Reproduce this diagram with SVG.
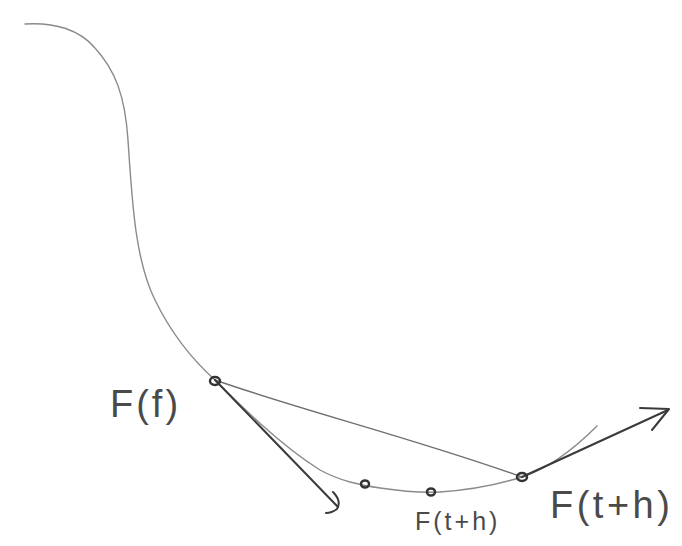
<svg xmlns="http://www.w3.org/2000/svg" width="682" height="546" viewBox="0 0 682 546">
<style>
.curve{fill:none;stroke:#8a8a8a;stroke-width:1.4;stroke-linecap:round}
.line{fill:none;stroke:#707070;stroke-width:1.4;stroke-linecap:round}
.arrow{fill:none;stroke:#3a3a3a;stroke-width:2;stroke-linecap:round;stroke-linejoin:round}
.pt{fill:none;stroke:#333;stroke-width:2.5}
.lbl{font-family:"Liberation Sans",Arial,sans-serif;fill:#4a4a4a}
</style>
<rect width="682" height="546" fill="#fff"/>
<g id="connectors">
<path class="curve" d="M25,24 C55,22 80,30 95,48 C115,70 125,95 128,140 C132,200 135,260 155,300 C172,335 195,362 215,380 C240,405 280,445 320,470 C340,481 360,485 380,488 C400,491 420,493 440,492 C470,490 500,484 522,477 C550,468 575,448 597,426"/>
<path class="line" d="M215,380 C300,410 420,440 522,477"/>
<path class="arrow" d="M215,380 L338,507"/>
<path class="arrow" d="M333,492 C339,498 340,504 337,509 C333,512 329,513 326,513"/>
<path class="arrow" d="M522,477 L668,410"/>
<path class="arrow" d="M640,408 L669,409 L652,430"/>
</g>
<g id="node-ft">
<ellipse class="pt" cx="215" cy="381" rx="5" ry="4"/>
<text class="lbl" x="110" y="417" font-size="38" letter-spacing="3">F(f)</text>
</g>
<g id="node-mid1">
<ellipse class="pt" cx="365" cy="484" rx="4" ry="3.5"/>
</g>
<g id="node-mid2">
<ellipse class="pt" cx="431" cy="492" rx="4" ry="3.5"/>
<text class="lbl" x="415" y="530" font-size="25" letter-spacing="3">F(t+h)</text>
</g>
<g id="node-fth">
<ellipse class="pt" cx="522" cy="477" rx="5" ry="4"/>
<text class="lbl" x="550" y="518" font-size="38" letter-spacing="3.5">F(t+h)</text>
</g>
</svg>
